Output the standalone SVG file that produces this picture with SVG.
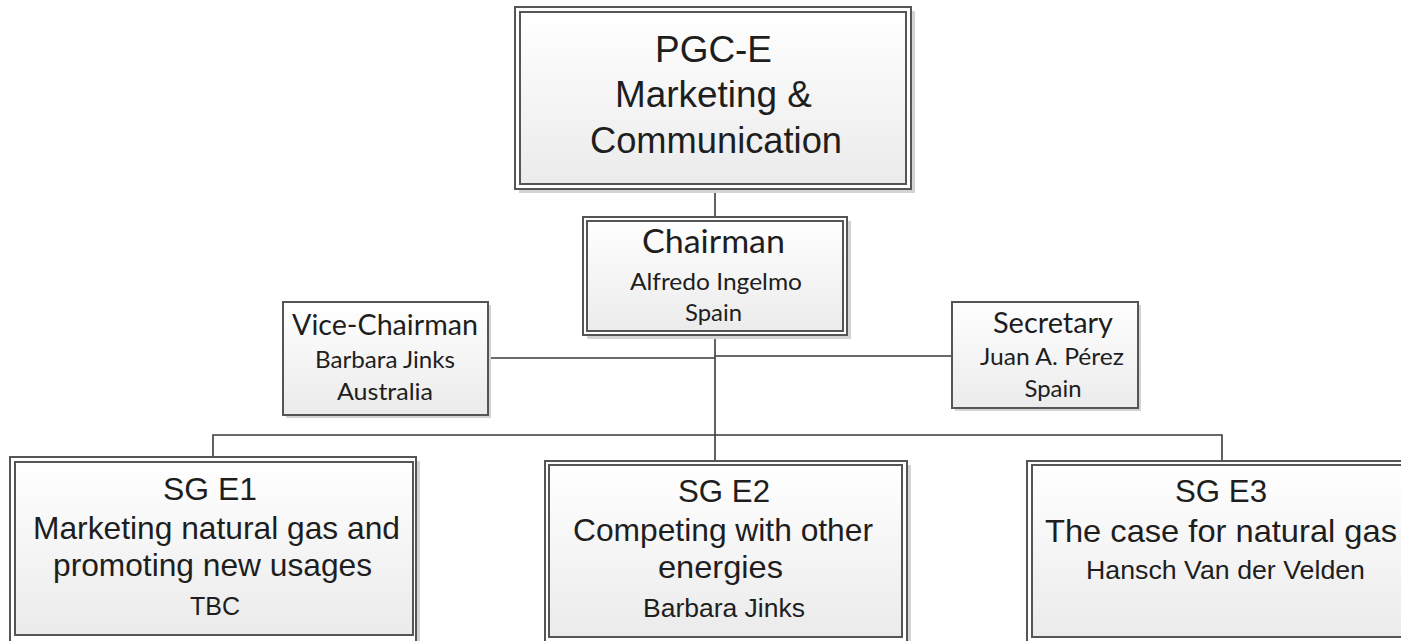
<svg xmlns="http://www.w3.org/2000/svg" width="1401" height="641" viewBox="0 0 1401 641">
<defs>
<linearGradient id="g" x1="0" y1="0" x2="0" y2="1">
<stop offset="0" stop-color="#ffffff"/>
<stop offset="1" stop-color="#ebebeb"/>
</linearGradient>
<style>
.sh{fill:#d4d4d4}
.o{fill:#ffffff;stroke:#555;stroke-width:2}
.i{fill:url(#g);stroke:#555;stroke-width:2}
.s{fill:url(#g);stroke:#555;stroke-width:2}
.ln{fill:none;stroke:#3a3a3a;stroke-width:1.6}
.a{font-family:"Liberation Sans",Arial,sans-serif;fill:#1e1e1e;text-anchor:middle}
.c{font-family:Lato,"Open Sans",sans-serif;fill:#1e1e1e;text-anchor:middle}
</style>
</defs>
<rect width="1401" height="641" fill="#ffffff"/>
<g id="connectors">
<path class="ln" d="M715 189V217"/>
<path class="ln" d="M715 335V461"/>
<path class="ln" d="M488 358H715"/>
<path class="ln" d="M715 356H952"/>
<path class="ln" d="M213 457V435H1222V461"/>
</g>
<g id="pgc">
<rect class="sh" x="519" y="11" width="396" height="182"/>
<rect class="o" x="515" y="7" width="396" height="182"/>
<rect class="i" x="520" y="12" width="386" height="172"/>
<text class="a" font-size="36"><tspan x="713.5" y="62" textLength="117" lengthAdjust="spacingAndGlyphs">PGC-E</tspan><tspan x="713.5" y="107" textLength="197" lengthAdjust="spacingAndGlyphs">Marketing &amp;</tspan><tspan x="716" y="153" textLength="252" lengthAdjust="spacingAndGlyphs">Communication</tspan></text>
</g>
<g id="chairman">
<rect class="sh" x="587" y="221" width="264" height="118"/>
<rect class="o" x="583" y="217" width="264" height="118"/>
<rect class="i" x="587" y="221" width="256" height="110"/>
<text class="c"><tspan x="713.5" y="253" font-size="33" textLength="143" lengthAdjust="spacingAndGlyphs">Chairman</tspan><tspan x="716" y="290" font-size="24" textLength="172" lengthAdjust="spacingAndGlyphs">Alfredo Ingelmo</tspan><tspan x="713.5" y="321" font-size="24" textLength="57" lengthAdjust="spacingAndGlyphs">Spain</tspan></text>
</g>
<g id="vice">
<rect class="sh" x="286" y="305" width="205" height="113"/>
<rect class="s" x="283" y="302" width="205" height="113"/>
<text class="c"><tspan x="385" y="335" font-size="28" textLength="186" lengthAdjust="spacingAndGlyphs">Vice-Chairman</tspan><tspan x="385" y="368" font-size="24" textLength="140" lengthAdjust="spacingAndGlyphs">Barbara Jinks</tspan><tspan x="385" y="400" font-size="24" textLength="96" lengthAdjust="spacingAndGlyphs">Australia</tspan></text>
</g>
<g id="secretary">
<rect class="sh" x="955" y="305" width="186" height="106"/>
<rect class="s" x="952" y="302" width="186" height="106"/>
<text class="c"><tspan x="1053" y="333" font-size="28" textLength="120" lengthAdjust="spacingAndGlyphs">Secretary</tspan><tspan x="1052" y="365" font-size="24" textLength="144" lengthAdjust="spacingAndGlyphs">Juan A. Pérez</tspan><tspan x="1053" y="397" font-size="24" textLength="57" lengthAdjust="spacingAndGlyphs">Spain</tspan></text>
</g>
<g id="sge1">
<rect class="sh" x="14" y="461" width="406" height="190"/>
<rect class="o" x="10" y="457" width="406" height="190"/>
<rect class="i" x="15" y="462" width="398" height="173"/>
<text class="a"><tspan x="210" y="500" font-size="32" textLength="94" lengthAdjust="spacingAndGlyphs">SG E1</tspan><tspan x="216.5" y="539" font-size="32" textLength="367" lengthAdjust="spacingAndGlyphs">Marketing natural gas and</tspan><tspan x="212.5" y="576" font-size="32" textLength="319" lengthAdjust="spacingAndGlyphs">promoting new usages</tspan><tspan x="215" y="615" font-size="25" textLength="50" lengthAdjust="spacingAndGlyphs">TBC</tspan></text>
</g>
<g id="sge2">
<rect class="sh" x="549" y="465" width="362" height="190"/>
<rect class="o" x="545" y="461" width="362" height="190"/>
<rect class="i" x="549" y="465" width="353" height="172"/>
<text class="a"><tspan x="724" y="502" font-size="32" textLength="92" lengthAdjust="spacingAndGlyphs">SG E2</tspan><tspan x="723" y="541" font-size="32" textLength="300" lengthAdjust="spacingAndGlyphs">Competing with other</tspan><tspan x="720.5" y="578" font-size="32" textLength="125" lengthAdjust="spacingAndGlyphs">energies</tspan><tspan x="724" y="617" font-size="26" textLength="162" lengthAdjust="spacingAndGlyphs">Barbara Jinks</tspan></text>
</g>
<g id="sge3">
<rect class="sh" x="1031" y="465" width="400" height="190"/>
<rect class="o" x="1027" y="461" width="400" height="190"/>
<rect class="i" x="1032" y="465" width="390" height="172"/>
<text class="a"><tspan x="1221" y="502" font-size="32" textLength="92" lengthAdjust="spacingAndGlyphs">SG E3</tspan><tspan x="1221" y="542" font-size="32" textLength="352" lengthAdjust="spacingAndGlyphs">The case for natural gas</tspan><tspan x="1225.5" y="579" font-size="26" textLength="279" lengthAdjust="spacingAndGlyphs">Hansch Van der Velden</tspan></text>
</g>
</svg>
